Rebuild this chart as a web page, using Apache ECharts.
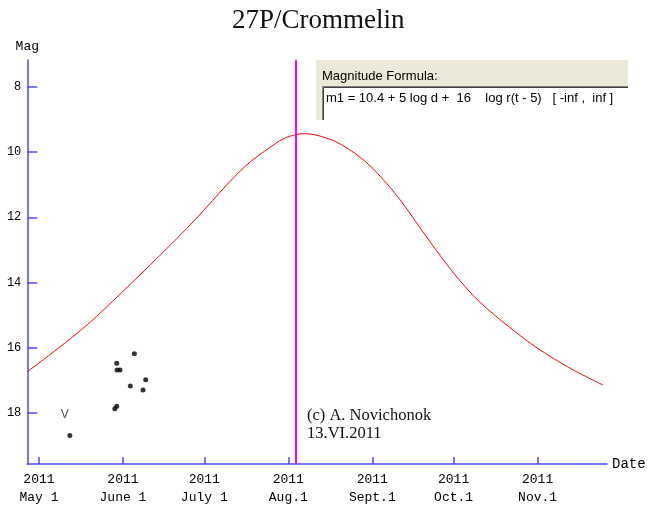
<!DOCTYPE html>
<html>
<head>
<meta charset="utf-8">
<script src="https://cdn.jsdelivr.net/npm/echarts@6/dist/echarts.min.js"></script>
<style>
  html, body { margin: 0; padding: 0; background: #fff; }
  #chart { width: 653px; height: 506px; }
</style>
</head>
<body>
<div id="chart"></div>
<script>
// days are counted from 2011 May 1
const startDate = '2011-05-01'
const tickDates = ['2011-05-01', '2011-06-01', '2011-07-01', '2011-08-01', '2011-09-01', '2011-10-01', '2011-11-01']
const tickNames = ['May 1', 'June 1', 'July 1', 'Aug.1', 'Sept.1', 'Oct.1', 'Nov.1']
const magTicks = [8, 10, 12, 14, 16, 18]

// predicted magnitude curve
const curveDay = [-4.4, 7.0, 18.0, 30.6, 44.6, 57.9, 70.5, 78.0, 85.2, 90.0, 95.2, 98.2, 101.1, 106.0, 111.1, 118.5, 125.0, 133.2, 144.3, 153.9, 162.7, 173.8, 184.1, 195.9, 208.1]
const curveMag = [16.74, 16.02, 15.28, 14.30, 13.17, 12.05, 10.90, 10.30, 9.86, 9.60, 9.46, 9.44, 9.46, 9.57, 9.75, 10.16, 10.66, 11.46, 12.75, 13.80, 14.60, 15.38, 16.02, 16.62, 17.14]

// observations
const obsDay = [11.4, 28.0, 28.7, 28.7, 28.8, 29.9, 33.7, 35.2, 38.4, 39.4]
const obsMag = [18.69, 17.87, 17.79, 16.47, 16.68, 16.68, 17.17, 16.18, 17.29, 16.98]
const obsNote = ['V', '', '', '', '', '', '', '', '', '']

const perihelionDay = 94.8

const monoFont = 'Liberation Mono'
const axisBlue = '#4b4bff'

function dayOf(d) {
  return (Date.parse(d) - Date.parse(startDate)) / 86400000
}
const tickDays = tickDates.map(dayOf)

function initCharts() {
  const charts = echarts.init(document.getElementById('chart'))
  charts.setOption(setOptions())
}

function setOptions() {
  return {
    animation: false,
    title: {
      text: '27P/Crommelin',
      left: 227,
      top: 2,
      textStyle: { fontFamily: 'Liberation Serif', fontSize: 27, fontWeight: 'normal', color: '#111' }
    },
    grid: {
      left: 27.3,
      right: 46,
      top: 60,
      bottom: 42,
      containLabel: false,
      outerBoundsMode: 'none'
    },
    xAxis: {
      type: 'value',
      min: -4.3,
      max: 209.6,
      name: 'Date',
      nameLocation: 'end',
      nameGap: 5,
      nameTextStyle: { fontFamily: monoFont, fontSize: 14, color: '#000' },
      axisLine: { show: true, onZero: false, lineStyle: { color: axisBlue, width: 1.5 } },
      axisTick: { show: true, inside: true, length: 7, customValues: tickDays, lineStyle: { color: axisBlue, width: 1.5 } },
      axisLabel: {
        customValues: tickDays,
        margin: 6,
        lineHeight: 18.5,
        fontFamily: monoFont,
        fontSize: 13,
        color: '#000',
        formatter: function (v) {
          const i = tickDays.indexOf(v)
          return i < 0 ? '' : '2011\n' + tickNames[i]
        }
      },
      splitLine: { show: false }
    },
    yAxis: {
      type: 'value',
      inverse: true,
      min: 7.18,
      max: 19.56,
      name: 'Mag',
      // axis is inverted, so its start is at the top
      nameLocation: 'start',
      nameGap: 7,
      nameTextStyle: { fontFamily: monoFont, fontSize: 13, color: '#000', align: 'center' },
      axisLine: { show: true, onZero: false, lineStyle: { color: axisBlue, width: 1.5 } },
      axisTick: { show: true, inside: true, length: 10, customValues: magTicks, lineStyle: { color: axisBlue, width: 1.5 } },
      axisLabel: { customValues: magTicks, margin: 6, fontFamily: monoFont, fontSize: 12, color: '#000' },
      splitLine: { show: false }
    },
    series: [
      {
        name: 'curve',
        type: 'line',
        smooth: 0.35,
        symbol: 'none',
        lineStyle: { color: '#ff0000', width: 1 },
        data: curveDay.map((d, i) => [d, curveMag[i]]),
        markLine: {
          silent: true,
          symbol: 'none',
          label: { show: false },
          lineStyle: { color: '#ff00ff', width: 2, type: 'solid' },
          data: [{ xAxis: perihelionDay }]
        }
      },
      {
        name: 'obs',
        type: 'scatter',
        symbolSize: 5,
        itemStyle: { color: '#000' },
        label: {
          show: true,
          position: 'top',
          offset: [-5, -7],
          fontFamily: 'Liberation Sans',
          fontSize: 12,
          color: '#222',
          formatter: p => obsNote[p.dataIndex]
        },
        data: obsDay.map((d, i) => [d, obsMag[i]])
      }
    ],
    graphic: [
      { type: 'rect', shape: { x: 316, y: 60, width: 312, height: 60 }, style: { fill: '#ece9d8' }, z: 10 },
      { type: 'rect', shape: { x: 323, y: 87, width: 305, height: 33 }, style: { fill: '#fff' }, z: 11 },
      { type: 'line', shape: { x1: 322.5, y1: 86.5, x2: 628, y2: 86.5 }, style: { stroke: '#808080', lineWidth: 1 }, z: 12 },
      { type: 'line', shape: { x1: 322.5, y1: 86.5, x2: 322.5, y2: 120 }, style: { stroke: '#808080', lineWidth: 1 }, z: 12 },
      { type: 'line', shape: { x1: 323.5, y1: 87.5, x2: 628, y2: 87.5 }, style: { stroke: '#404040', lineWidth: 1 }, z: 12 },
      { type: 'line', shape: { x1: 323.5, y1: 87.5, x2: 323.5, y2: 120 }, style: { stroke: '#404040', lineWidth: 1 }, z: 12 },
      {
        type: 'text', left: 322, top: 70, z: 13,
        style: { text: 'Magnitude Formula:', fontFamily: 'Liberation Sans', fontSize: 13, fill: '#000' }
      },
      {
        type: 'text', left: 326, top: 92, z: 13,
        style: { text: 'm1 = 10.4 + 5 log d +  16    log r(t - 5)   [ -inf ,  inf ]', fontFamily: 'Liberation Sans', fontSize: 13, fill: '#000' }
      },
      {
        type: 'text', left: 307, top: 407, z: 13,
        style: { text: '(c) A. Novichonok\n13.VI.2011', fontFamily: 'Liberation Serif', fontSize: 16.5, lineHeight: 17.5, fill: '#111' }
      }
    ]
  }
}

initCharts()
</script>
</body>
</html>
